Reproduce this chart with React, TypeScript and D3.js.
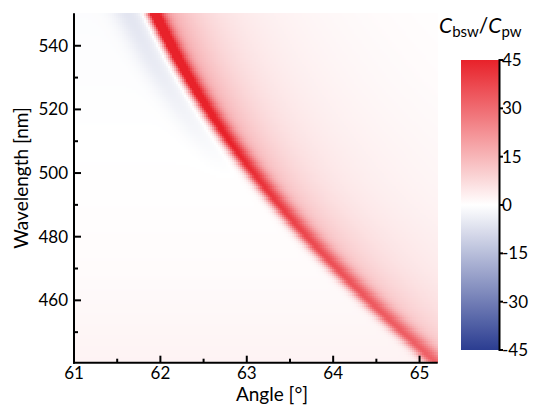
import React from "react";
import * as d3 from "d3";

// ---- data ----
const angleDomain = [61, 65.21];
const wavelengthDomain = [440.4, 550.2];
const xTicks = [61, 62, 63, 64, 65];
const xMinorTicks = [61.5, 62.5, 63.5, 64.5];
const yTicks = [460, 480, 500, 520, 540];
const yMinorTicks = [450, 470, 490, 510, 530];
const colorTicks = [45, 30, 15, 0, -15, -30, -45];
const colorDomain = [-45, 0, 45];

// ridge (resonance)
const ridgeWavelengths = [442, 461, 480, 498, 514, 532, 551];
const ridgeAngles = [65.13, 64.38, 63.7, 63.14, 62.7, 62.28, 61.91];
const ridgePeaks = [30, 33, 37, 42, 47, 53, 58];
const ridgeWidths = [0.085, 0.08, 0.075, 0.07, 0.066, 0.063, 0.06];
const shoulderAmps = [9, 10, 11, 12.5, 14.5, 16.5, 18];
const tailAmps = [5, 6, 7, 7, 7.5, 8, 8];
const dipAmps = [0, 0, 0, 0, -2, -4, -5.5];
const bgWavelengths = [440, 455, 470, 490, 510, 530, 551];
const bgValues = [2.5, 1.6, 0.8, 0.3, 0, -0.4, -0.6];

const W = 538;
const H = 413;
const FONT = "Lato, 'Open Sans', sans-serif";

const x = d3.scaleLinear().domain(angleDomain).range([74, 437.7]);
const y = d3.scaleLinear().domain(wavelengthDomain).range([362.7, 13.3]);
const color = d3
  .scaleLinear<string>()
  .domain(colorDomain)
  .range(["#2b3d91", "#ffffff", "#e8222a"])
  .interpolate(d3.interpolateRgb)
  .clamp(true);
const cScale = d3.scaleLinear().domain([-45, 45]).range([350, 60]);

// smooth (Catmull-Rom / Hermite) interpolation through the read points
function spline(xs: number[], ys: number[]) {
  const n = xs.length;
  const m = xs.map((_, i) => {
    if (i === 0) return (ys[1] - ys[0]) / (xs[1] - xs[0]);
    if (i === n - 1) return (ys[n - 1] - ys[n - 2]) / (xs[n - 1] - xs[n - 2]);
    return (ys[i + 1] - ys[i - 1]) / (xs[i + 1] - xs[i - 1]);
  });
  return (t: number) => {
    if (t <= xs[0]) return ys[0] + m[0] * (t - xs[0]);
    if (t >= xs[n - 1]) return ys[n - 1] + m[n - 1] * (t - xs[n - 1]);
    let i = d3.bisectRight(xs, t) - 1;
    if (i >= n - 1) i = n - 2;
    const h = xs[i + 1] - xs[i];
    const s = (t - xs[i]) / h;
    const h00 = 2 * s ** 3 - 3 * s ** 2 + 1;
    const h10 = s ** 3 - 2 * s ** 2 + s;
    const h01 = -2 * s ** 3 + 3 * s ** 2;
    const h11 = s ** 3 - s ** 2;
    return h00 * ys[i] + h10 * h * m[i] + h01 * ys[i + 1] + h11 * h * m[i + 1];
  };
}

const ridgeAt = spline(ridgeWavelengths, ridgeAngles);
const peakAt = d3.scaleLinear().domain(ridgeWavelengths).range(ridgePeaks);
const widthAt = d3.scaleLinear().domain(ridgeWavelengths).range(ridgeWidths);
const shoulderAt = d3.scaleLinear().domain(ridgeWavelengths).range(shoulderAmps);
const tailAt = d3.scaleLinear().domain(ridgeWavelengths).range(tailAmps);
const dipAt = d3.scaleLinear().domain(ridgeWavelengths).range(dipAmps).clamp(true);
const bgAt = d3.scaleLinear().domain(bgWavelengths).range(bgValues).clamp(true);

function field(a: number, w: number): number {
  const d = a - ridgeAt(w);
  const s = widthAt(w);
  const P = peakAt(w);
  let v: number;
  if (d < 0) {
    v = P * Math.exp(-0.5 * (d / s) ** 2);
  } else {
    const S = shoulderAt(w);
    const T = tailAt(w);
    const g = Math.exp(-0.5 * (d / (s * 1.35)) ** 2);
    v = (P - S - T) * g + S * Math.exp(-d / 0.35) + T * Math.exp(-d / 1.5);
  }
  v += dipAt(w) * Math.exp(-0.5 * ((d + 0.3) / 0.13) ** 2);
  v += bgAt(w);
  return v;
}

const NX = 182;
const NY = 160;

function buildCells() {
  const cells: { a0: number; a1: number; w0: number; w1: number; v: number }[] = [];
  const da = (angleDomain[1] - angleDomain[0]) / NX;
  const dw = (wavelengthDomain[1] - wavelengthDomain[0]) / NY;
  for (let j = 0; j < NY; j++) {
    const w0 = wavelengthDomain[0] + j * dw;
    for (let i = 0; i < NX; i++) {
      const a0 = angleDomain[0] + i * da;
      cells.push({ a0, a1: a0 + da, w0, w1: w0 + dw, v: field(a0 + da / 2, w0 + dw / 2) });
    }
  }
  return cells;
}

export default function App() {
  const cells = React.useMemo(buildCells, []);
  const gradStops = d3.range(0, 1.0001, 0.05);
  return (
    <svg
      width={W}
      height={H}
      style={{ position: "absolute", left: 0, top: 0, background: "#fff" }}
      fontFamily={FONT}
    >
      <defs>
        <linearGradient id="cbar" x1="0" y1="1" x2="0" y2="0">
          {gradStops.map((t) => (
            <stop key={t} offset={t} stopColor={color(-45 + 90 * t)} />
          ))}
        </linearGradient>
      </defs>
      <g shapeRendering="crispEdges">
        {cells.map((c, k) => (
          <rect
            key={k}
            x={x(c.a0)}
            y={y(c.w1)}
            width={x(c.a1) - x(c.a0) + 0.6}
            height={y(c.w0) - y(c.w1) + 0.6}
            fill={color(c.v)}
          />
        ))}
      </g>
      {/* axes */}
      <g stroke="#000" strokeWidth={2} fill="none">
        <line x1={x.range()[0]} x2={x.range()[0]} y1={y.range()[1]} y2={y.range()[0] + 1} />
        <line x1={x.range()[0] - 1} x2={x.range()[1]} y1={y.range()[0]} y2={y.range()[0]} />
        {xTicks.map((t) => (
          <line key={"xt" + t} x1={x(t)} x2={x(t)} y1={y.range()[0]} y2={y.range()[0] - 7} />
        ))}
        {xMinorTicks.map((t) => (
          <line key={"xm" + t} x1={x(t)} x2={x(t)} y1={y.range()[0]} y2={y.range()[0] - 4} />
        ))}
        {yTicks.map((t) => (
          <line key={"yt" + t} x1={x.range()[0]} x2={x.range()[0] + 7} y1={y(t)} y2={y(t)} />
        ))}
        {yMinorTicks.map((t) => (
          <line key={"ym" + t} x1={x.range()[0]} x2={x.range()[0] + 4} y1={y(t)} y2={y(t)} />
        ))}
      </g>
      <g fontSize={17} fill="#000">
        {xTicks.map((t) => (
          <text key={"xl" + t} x={x(t)} y={379} textAnchor="middle">
            {t}
          </text>
        ))}
        {yTicks.map((t) => (
          <text key={"yl" + t} x={68} y={y(t)} dy="0.35em" textAnchor="end">
            {t}
          </text>
        ))}
      </g>
      <text x={272} y={401} textAnchor="middle" fontSize={19}>
        Angle [°]
      </text>
      <text transform="translate(28,178) rotate(-90)" textAnchor="middle" fontSize={19}>
        Wavelength [nm]
      </text>
      {/* colorbar */}
      <rect x={461} y={cScale(45)} width={38} height={cScale(-45) - cScale(45)} fill="url(#cbar)" />
      <g stroke="#000" strokeWidth={2}>
        <line x1={499.5} x2={499.5} y1={cScale(45) - 1} y2={cScale(-45) + 1} />
        {colorTicks.map((t) => (
          <line key={"ct" + t} x1={499.5} x2={503} y1={cScale(t)} y2={cScale(t)} />
        ))}
      </g>
      <g fontSize={17} fill="#000">
        {colorTicks.map((t) => (
          <text key={"cl" + t} x={502} y={cScale(t)} dy="0.35em">
            {t < 0 ? "-" + Math.abs(t) : String(t)}
          </text>
        ))}
      </g>
      <text x={439} y={33} fontSize={21}>
        <tspan fontStyle="italic">C</tspan>
        <tspan fontSize={15} dy={4}>bsw</tspan>
        <tspan dy={-4}>/</tspan>
        <tspan fontStyle="italic">C</tspan>
        <tspan fontSize={15} dy={4}>pw</tspan>
      </text>
    </svg>
  );
}
